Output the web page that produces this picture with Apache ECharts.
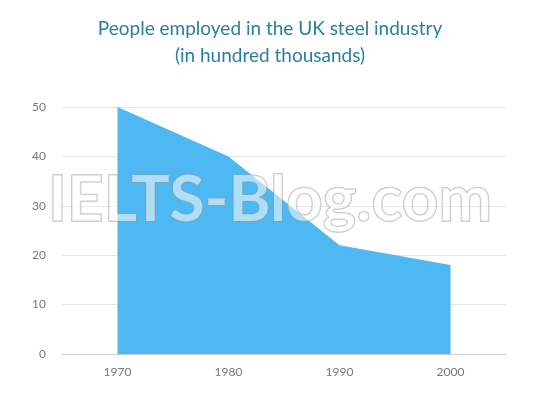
<!DOCTYPE html>
<html>
<head>
<meta charset="utf-8">
<script src="https://cdn.jsdelivr.net/npm/echarts@6/dist/echarts.min.js"></script>
<style>
  html, body { margin: 0; padding: 0; background: #fff; }
  #main { width: 540px; height: 405px; }
</style>
</head>
<body>
<div id="main"></div>
<script>
var years = ['1970', '1980', '1990', '2000'];
var employed = [50, 40, 22, 18];

var chart = echarts.init(document.getElementById('main'));
chart.setOption({
    animation: false,
    title: {
        text: 'People employed in the UK steel industry\n(in hundred thousands)',
        left: 'center',
        top: 10,
        textStyle: {
            color: '#2a7f9e',
            fontFamily: 'Lato',
            fontWeight: 'normal',
            fontSize: 19,
            lineHeight: 27
        }
    },
    grid: { left: 62, right: 34, top: 107, bottom: 51 },
    xAxis: {
        type: 'category',
        data: years,
        boundaryGap: true,
        axisLine: { lineStyle: { color: '#cccccc' } },
        axisTick: { show: false },
        axisLabel: { color: '#777', fontFamily: 'Lato', fontSize: 12, margin: 12 }
    },
    yAxis: {
        type: 'value',
        min: 0,
        max: 50,
        interval: 10,
        axisLine: { show: false },
        axisTick: { show: false },
        axisLabel: { color: '#777', fontFamily: 'Lato', fontSize: 12, margin: 16 },
        splitLine: { lineStyle: { color: '#e6e6e6' } }
    },
    series: [{
        type: 'line',
        data: employed,
        symbol: 'none',
        lineStyle: { width: 0 },
        areaStyle: { color: '#4db8f2', opacity: 1 }
    }],
    graphic: [{
        type: 'text',
        left: 'center',
        top: 168,
        z: 100,
        style: {
            text: 'IELTS-Blog.com',
            font: 'bold 64px Lato',
            fill: 'rgba(255,255,255,0.55)',
            stroke: 'rgba(150,150,150,0.6)',
            lineWidth: 1.5
        }
    }]
});
</script>
</body>
</html>
